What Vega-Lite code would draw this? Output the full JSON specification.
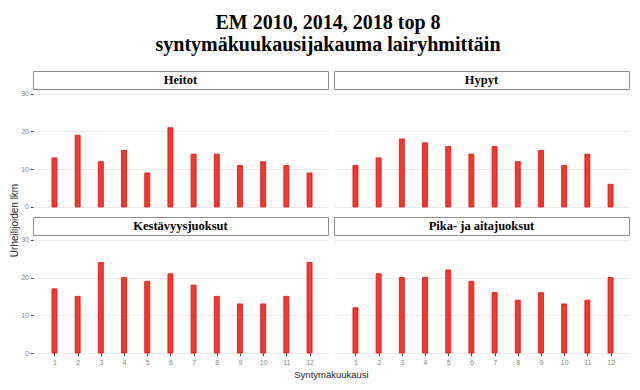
{
  "$schema": "https://vega.github.io/schema/vega-lite/v6.json",
  "padding": {"left": 9, "top": 12, "right": 6, "bottom": 6},
  "background": "white",
  "title": {
    "text": ["EM 2010, 2014, 2018 top 8", "syntymäkuukausijakauma lairyhmittäin"],
    "font": "Liberation Serif",
    "fontSize": 20,
    "fontWeight": "bold",
    "lineHeight": 22,
    "color": "#000000",
    "anchor": "start",
    "frame": "group",
    "align": "center",
    "dx": 295,
    "offset": 16
  },
  "config": {
    "view": {"stroke": null},
    "axis": {
      "labelFont": "Liberation Sans",
      "titleFont": "Liberation Sans",
      "labelFontSize": 7,
      "labelColor": "#7f7f7f",
      "tickColor": "#333333",
      "tickSize": 2.5,
      "tickWidth": 1,
      "domain": false,
      "gridColor": "#e8e8e8",
      "gridWidth": 1,
      "titleFontSize": 9.5,
      "titleFontWeight": "normal",
      "titleColor": "#222222"
    }
  },
  "datasets": {
    "d": [
      {"ryhma": "Heitot", "kk": 1, "n": 13}, {"ryhma": "Heitot", "kk": 2, "n": 19}, {"ryhma": "Heitot", "kk": 3, "n": 12}, {"ryhma": "Heitot", "kk": 4, "n": 15}, {"ryhma": "Heitot", "kk": 5, "n": 9}, {"ryhma": "Heitot", "kk": 6, "n": 21}, {"ryhma": "Heitot", "kk": 7, "n": 14}, {"ryhma": "Heitot", "kk": 8, "n": 14}, {"ryhma": "Heitot", "kk": 9, "n": 11}, {"ryhma": "Heitot", "kk": 10, "n": 12}, {"ryhma": "Heitot", "kk": 11, "n": 11}, {"ryhma": "Heitot", "kk": 12, "n": 9},
      {"ryhma": "Hypyt", "kk": 1, "n": 11}, {"ryhma": "Hypyt", "kk": 2, "n": 13}, {"ryhma": "Hypyt", "kk": 3, "n": 18}, {"ryhma": "Hypyt", "kk": 4, "n": 17}, {"ryhma": "Hypyt", "kk": 5, "n": 16}, {"ryhma": "Hypyt", "kk": 6, "n": 14}, {"ryhma": "Hypyt", "kk": 7, "n": 16}, {"ryhma": "Hypyt", "kk": 8, "n": 12}, {"ryhma": "Hypyt", "kk": 9, "n": 15}, {"ryhma": "Hypyt", "kk": 10, "n": 11}, {"ryhma": "Hypyt", "kk": 11, "n": 14}, {"ryhma": "Hypyt", "kk": 12, "n": 6},
      {"ryhma": "Kestävyysjuoksut", "kk": 1, "n": 17}, {"ryhma": "Kestävyysjuoksut", "kk": 2, "n": 15}, {"ryhma": "Kestävyysjuoksut", "kk": 3, "n": 24}, {"ryhma": "Kestävyysjuoksut", "kk": 4, "n": 20}, {"ryhma": "Kestävyysjuoksut", "kk": 5, "n": 19}, {"ryhma": "Kestävyysjuoksut", "kk": 6, "n": 21}, {"ryhma": "Kestävyysjuoksut", "kk": 7, "n": 18}, {"ryhma": "Kestävyysjuoksut", "kk": 8, "n": 15}, {"ryhma": "Kestävyysjuoksut", "kk": 9, "n": 13}, {"ryhma": "Kestävyysjuoksut", "kk": 10, "n": 13}, {"ryhma": "Kestävyysjuoksut", "kk": 11, "n": 15}, {"ryhma": "Kestävyysjuoksut", "kk": 12, "n": 24},
      {"ryhma": "Pika- ja aitajuoksut", "kk": 1, "n": 12}, {"ryhma": "Pika- ja aitajuoksut", "kk": 2, "n": 21}, {"ryhma": "Pika- ja aitajuoksut", "kk": 3, "n": 20}, {"ryhma": "Pika- ja aitajuoksut", "kk": 4, "n": 20}, {"ryhma": "Pika- ja aitajuoksut", "kk": 5, "n": 22}, {"ryhma": "Pika- ja aitajuoksut", "kk": 6, "n": 19}, {"ryhma": "Pika- ja aitajuoksut", "kk": 7, "n": 16}, {"ryhma": "Pika- ja aitajuoksut", "kk": 8, "n": 14}, {"ryhma": "Pika- ja aitajuoksut", "kk": 9, "n": 16}, {"ryhma": "Pika- ja aitajuoksut", "kk": 10, "n": 13}, {"ryhma": "Pika- ja aitajuoksut", "kk": 11, "n": 14}, {"ryhma": "Pika- ja aitajuoksut", "kk": 12, "n": 20}
    ]
  },
  "columns": 2,
  "bounds": "flush",
  "spacing": {"row": 1, "column": 6},
  "concat": [
    {
      "data": {"name": "d"},
      "transform": [{"filter": "datum.ryhma === 'Heitot' && datum.kk === 1"}],
      "width": 295, "height": 18,
      "view": {"stroke": "#8c8c8c", "strokeWidth": 1, "fill": "white"},
      "mark": {"type": "text", "font": "Liberation Serif", "fontSize": 12.5, "fontWeight": "bold", "color": "#000000"},
      "encoding": {"text": {"field": "ryhma"}}
    },
    {
      "data": {"name": "d"},
      "transform": [{"filter": "datum.ryhma === 'Hypyt' && datum.kk === 1"}],
      "width": 295, "height": 18,
      "view": {"stroke": "#8c8c8c", "strokeWidth": 1, "fill": "white"},
      "mark": {"type": "text", "font": "Liberation Serif", "fontSize": 12.5, "fontWeight": "bold", "color": "#000000"},
      "encoding": {"text": {"field": "ryhma"}}
    },
    {
      "data": {"name": "d"},
      "transform": [{"filter": "datum.ryhma === 'Heitot'"}],
      "width": 295, "height": 126,
      "mark": {"type": "bar", "width": 5, "fill": "#ee3b2e", "stroke": "#e01010", "strokeWidth": 0.8},
      "encoding": {
        "x": {"field": "kk", "type": "quantitative", "scale": {"domain": [0.29, 12.58], "nice": false, "zero": false}, "axis": null},
        "y": {"field": "n", "type": "quantitative", "scale": {"domain": [-2.4, 31], "nice": false, "zero": false},
          "axis": {"values": [0, 10, 20, 30], "title": "Urheilijoiden lkm", "titleFontSize": 10, "titleY": 130, "titlePadding": 1}}
      }
    },
    {
      "data": {"name": "d"},
      "transform": [{"filter": "datum.ryhma === 'Hypyt'"}],
      "width": 295, "height": 126,
      "mark": {"type": "bar", "width": 5, "fill": "#ee3b2e", "stroke": "#e01010", "strokeWidth": 0.8},
      "encoding": {
        "x": {"field": "kk", "type": "quantitative", "scale": {"domain": [0.29, 12.58], "nice": false, "zero": false}, "axis": null},
        "y": {"field": "n", "type": "quantitative", "scale": {"domain": [-2.4, 31], "nice": false, "zero": false},
          "axis": {"values": [0, 10, 20, 30], "title": null, "labels": false, "ticks": false}}
      }
    },
    {
      "data": {"name": "d"},
      "transform": [{"filter": "datum.ryhma === 'Kestävyysjuoksut' && datum.kk === 1"}],
      "width": 295, "height": 18,
      "view": {"stroke": "#8c8c8c", "strokeWidth": 1, "fill": "white"},
      "mark": {"type": "text", "font": "Liberation Serif", "fontSize": 12.5, "fontWeight": "bold", "color": "#000000"},
      "encoding": {"text": {"field": "ryhma"}}
    },
    {
      "data": {"name": "d"},
      "transform": [{"filter": "datum.ryhma === 'Pika- ja aitajuoksut' && datum.kk === 1"}],
      "width": 295, "height": 18,
      "view": {"stroke": "#8c8c8c", "strokeWidth": 1, "fill": "white"},
      "mark": {"type": "text", "font": "Liberation Serif", "fontSize": 12.5, "fontWeight": "bold", "color": "#000000"},
      "encoding": {"text": {"field": "ryhma"}}
    },
    {
      "data": {"name": "d"},
      "transform": [{"filter": "datum.ryhma === 'Kestävyysjuoksut'"}],
      "width": 295, "height": 117,
      "mark": {"type": "bar", "width": 5, "fill": "#ee3b2e", "stroke": "#e01010", "strokeWidth": 0.8},
      "encoding": {
        "x": {"field": "kk", "type": "quantitative", "scale": {"domain": [0.29, 12.58], "nice": false, "zero": false},
          "axis": {"values": [1, 2, 3, 4, 5, 6, 7, 8, 9, 10, 11, 12], "format": "d", "grid": false, "title": "Syntymäkuukausi", "titleX": 298, "titlePadding": 4, "labelPadding": 3}},
        "y": {"field": "n", "type": "quantitative", "scale": {"domain": [0, 31], "nice": false},
          "axis": {"values": [0, 10, 20, 30], "title": null}}
      }
    },
    {
      "data": {"name": "d"},
      "transform": [{"filter": "datum.ryhma === 'Pika- ja aitajuoksut'"}],
      "width": 295, "height": 117,
      "mark": {"type": "bar", "width": 5, "fill": "#ee3b2e", "stroke": "#e01010", "strokeWidth": 0.8},
      "encoding": {
        "x": {"field": "kk", "type": "quantitative", "scale": {"domain": [0.29, 12.58], "nice": false, "zero": false},
          "axis": {"values": [1, 2, 3, 4, 5, 6, 7, 8, 9, 10, 11, 12], "format": "d", "grid": false, "title": null, "labelPadding": 3}},
        "y": {"field": "n", "type": "quantitative", "scale": {"domain": [0, 31], "nice": false},
          "axis": {"values": [0, 10, 20, 30], "title": null, "labels": false, "ticks": false}}
      }
    }
  ]
}
